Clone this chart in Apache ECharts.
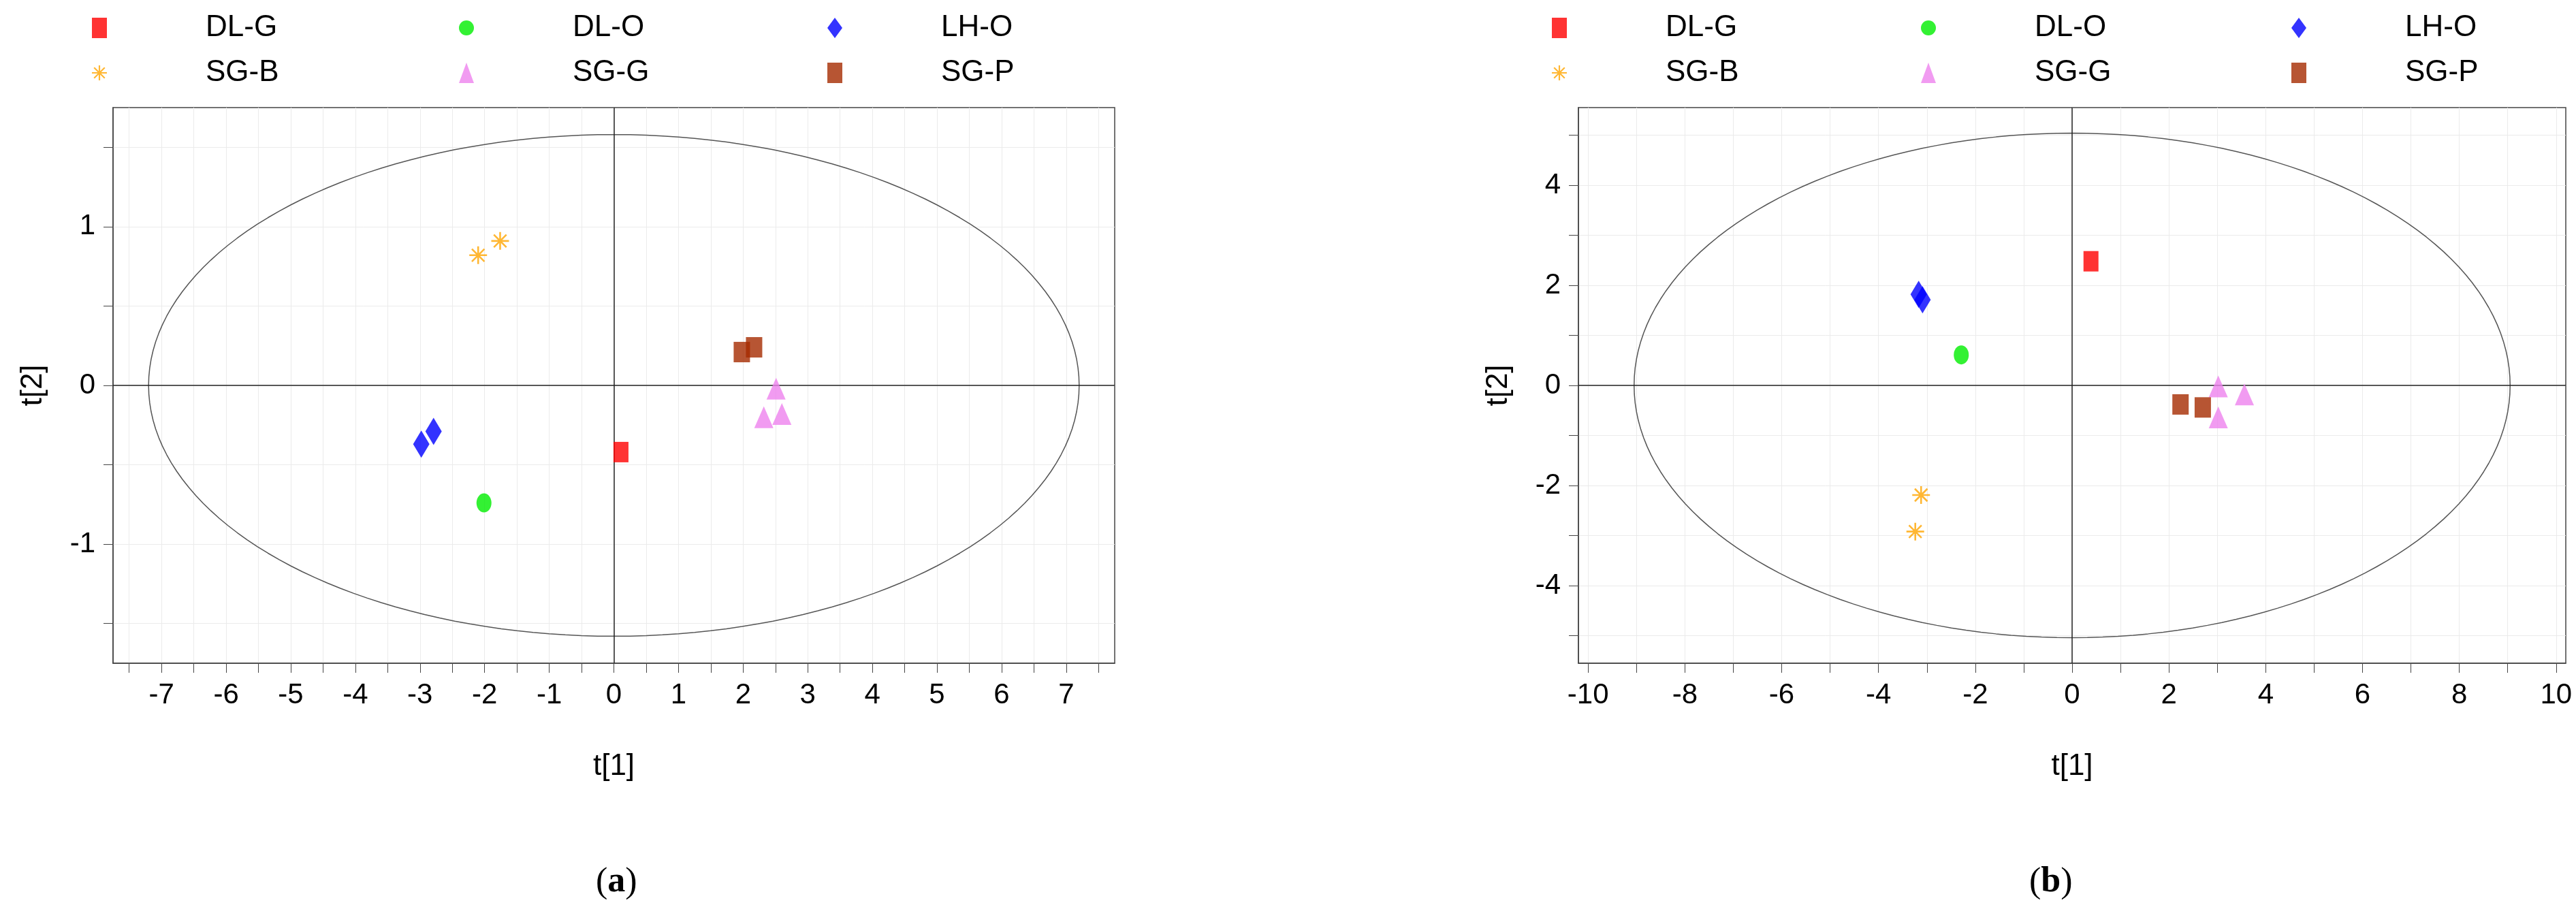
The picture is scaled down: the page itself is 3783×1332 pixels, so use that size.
<!DOCTYPE html>
<html>
<head>
<meta charset="utf-8">
<script src="https://cdn.jsdelivr.net/npm/echarts@6/dist/echarts.min.js"></script>
<style>html,body{margin:0;padding:0;background:#fff}#chart{width:3783px;height:1332px}</style>
</head>
<body>
<div id="chart"></div>
<script>
var groups = ['DL-G', 'DL-O', 'LH-O', 'SG-B', 'SG-G', 'SG-P'];
var colors = ['#ff0000', '#00ee00', '#0000ff', '#ffa500', '#ee82ee', '#a52a00'];
var asterisk = 'path://M9,0h2v20h-2zM0,9h20v2h-20zM2.2,3.6l1.4-1.4l14.2,14.2l-1.4,1.4zM16.4,2.2l1.4,1.4l-14.2,14.2l-1.4-1.4z';
var symbols = ['rect', 'circle', 'diamond', asterisk, 'triangle', 'rect'];
var sizes = [[22, 30], [22, 28], [24, 40], 26, [28, 32], [24, 30]];

// panel (a)
var dataA = [
    [[0.11, -0.42]],
    [[-2.01, -0.74]],
    [[-2.79, -0.29], [-2.98, -0.37]],
    [[-2.10, 0.82], [-1.76, 0.91]],
    [[2.51, -0.02], [2.32, -0.20], [2.60, -0.18]],
    [[1.98, 0.21], [2.17, 0.24]]
];
// panel (b)
var dataB = [
    [[0.39, 2.48]],
    [[-2.29, 0.61]],
    [[-3.17, 1.82], [-3.09, 1.71]],
    [[-3.12, -2.19], [-3.24, -2.92]],
    [[3.02, -0.02], [3.56, -0.18], [3.02, -0.64]],
    [[2.24, -0.38], [2.70, -0.44]]
];
var ellipseA = [7.2, 1.58];
var ellipseB = [9.05, 5.04];

// tick labels and tick marks
var xLabelsA = [-7, -6, -5, -4, -3, -2, -1, 0, 1, 2, 3, 4, 5, 6, 7];
var xTicksA = [-7.5, -7, -6.5, -6, -5.5, -5, -4.5, -4, -3.5, -3, -2.5, -2, -1.5, -1, -0.5, 0,
    0.5, 1, 1.5, 2, 2.5, 3, 3.5, 4, 4.5, 5, 5.5, 6, 6.5, 7, 7.5];
var yLabelsA = [-1, 0, 1];
var yTicksA = [-1.5, -1, -0.5, 0, 0.5, 1, 1.5];
var xLabelsB = [-10, -8, -6, -4, -2, 0, 2, 4, 6, 8, 10];
var xTicksB = [-10, -9, -8, -7, -6, -5, -4, -3, -2, -1, 0, 1, 2, 3, 4, 5, 6, 7, 8, 9, 10];
var yLabelsB = [-4, -2, 0, 2, 4];
var yTicksB = [-5, -4, -3, -2, -1, 0, 1, 2, 3, 4, 5];

function ellipsePts(r) {
    var pts = [];
    for (var i = 0; i <= 180; i++) {
        var t = i / 180 * 2 * Math.PI;
        pts.push([r[0] * Math.cos(t), r[1] * Math.sin(t)]);
    }
    return pts;
}

var font = 'Liberation Sans';
var grids = [
    {left: 166, right: 2146, top: 158, bottom: 358, show: true, borderColor: '#444', borderWidth: 1.5},
    {left: 2318, right: 15, top: 158, bottom: 358, show: true, borderColor: '#444', borderWidth: 1.5}
];
function axis(idx, name, gap, min, max, interval, labels, ticks) {
    return {
        gridIndex: idx, type: 'value', min: min, max: max, interval: interval,
        name: name, nameLocation: 'middle', nameGap: gap,
        nameTextStyle: {fontFamily: font, fontSize: 44, color: '#000'},
        axisLine: {onZero: false, lineStyle: {color: '#444', width: 1.5}},
        axisTick: {show: true, length: 14, customValues: ticks, lineStyle: {color: '#444'}},
        axisLabel: {fontFamily: font, fontSize: 42, color: '#000', margin: 26, customValues: labels},
        splitLine: {show: true, lineStyle: {color: '#ebebeb', width: 1}}
    };
}

var series = [];
var legends = [];
var iconX = [[142, 681, 1222], [2286, 2828, 3372]];
[dataA, dataB].forEach(function (data, p) {
    data.forEach(function (pts, i) {
        series.push({
            name: groups[i] + (p ? ' ' : ''), type: 'scatter', xAxisIndex: p, yAxisIndex: p,
            data: pts, symbol: symbols[i], symbolSize: sizes[i],
            itemStyle: {color: colors[i]}, z: 5
        });
        legends.push({
            data: [{name: groups[i] + (p ? ' ' : ''), icon: symbols[i]}],
            left: iconX[p][i % 3] - 12, top: i < 3 ? 14 : 80,
            itemWidth: 22, itemHeight: 30, itemGap: 0,
            textStyle: {fontFamily: font, fontSize: 44, color: '#000', padding: [0, 0, 0, 140]}
        });
    });
    series.push({
        type: 'line', xAxisIndex: p, yAxisIndex: p, data: ellipsePts(p ? ellipseB : ellipseA),
        showSymbol: false, silent: true, lineStyle: {color: '#555', width: 1.5}, z: 3,
        markLine: {
            silent: true, symbol: 'none', label: {show: false},
            lineStyle: {color: '#222', width: 1.5, type: 'solid'},
            data: [{xAxis: 0}, {yAxis: 0}]
        }
    });
});

var option = {
    animation: false,
    backgroundColor: '#fff',
    grid: grids,
    legend: legends,
    xAxis: [axis(0, 't[1]', 130, -7.75, 7.75, 0.25, xLabelsA, xTicksA),
        axis(1, 't[1]', 130, -10.2, 10.2, 0.6, xLabelsB, xTicksB)],
    yAxis: [axis(0, 't[2]', 95, -1.75, 1.75, 0.25, yLabelsA, yTicksA),
        axis(1, 't[2]', 95, -5.55, 5.55, 0.37, yLabelsB, yTicksB)],
    title: [
        {text: '({b|a})', left: 870, top: 1265, textStyle: {fontFamily: 'Liberation Serif', fontSize: 52, fontWeight: 'normal', color: '#000',
            rich: {b: {fontFamily: 'Liberation Serif', fontSize: 52, fontWeight: 'bold'}}}},
        {text: '({b|b})', left: 2975, top: 1265, textStyle: {fontFamily: 'Liberation Serif', fontSize: 52, fontWeight: 'normal', color: '#000',
            rich: {b: {fontFamily: 'Liberation Serif', fontSize: 52, fontWeight: 'bold'}}}}
    ],
    series: series
};
var chart = echarts.init(document.getElementById('chart'));
chart.setOption(option);
</script>
</body>
</html>
